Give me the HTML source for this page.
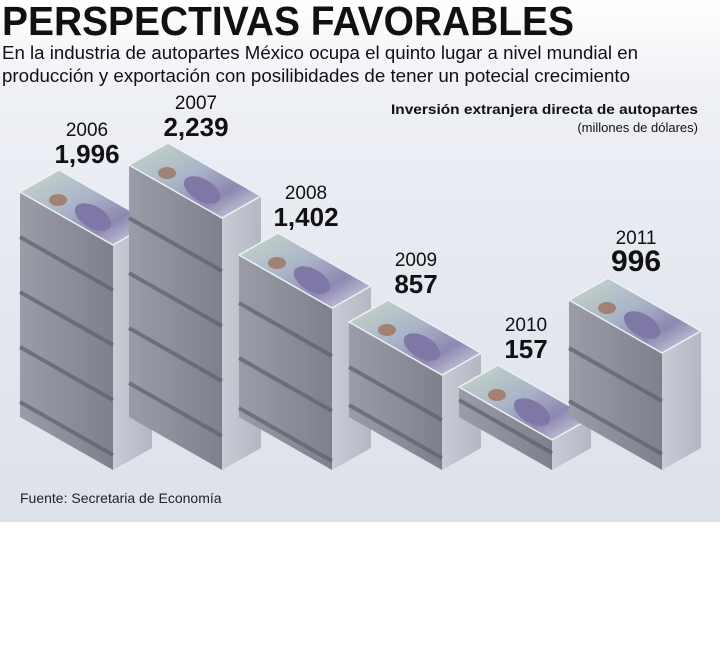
<!DOCTYPE html>
<html><head><meta charset="utf-8"><style>
html,body{margin:0;padding:0;background:#fff}
#w{position:relative;width:720px;height:660px;overflow:hidden;font-family:"Liberation Sans",sans-serif}
#bg{position:absolute;left:0;top:0;width:720px;height:522px;background:linear-gradient(180deg,#ffffff 0%,#eef0f5 18%,#e3e7ef 60%,#dde2ea 100%)}
</style></head><body><div id="w"><div id="bg"></div>
<svg width="720" height="660" style="position:absolute;left:0;top:0">
<defs>
<linearGradient id="lf" x1="0" y1="0" x2="1" y2="0"><stop offset="0" stop-color="#9a9ca8"/><stop offset="1" stop-color="#7e808c"/></linearGradient>
<linearGradient id="rf" x1="0" y1="0" x2="1" y2="0"><stop offset="0" stop-color="#c9cbd5"/><stop offset="1" stop-color="#b4b7c3"/></linearGradient>
<linearGradient id="tp" x1="0" y1="0" x2="1" y2="1"><stop offset="0" stop-color="#c8d8c8"/><stop offset="0.45" stop-color="#a9b3c8"/><stop offset="0.7" stop-color="#8d88b0"/><stop offset="1" stop-color="#dfe3ee"/></linearGradient>
<g id="top">
<polygon points="-93,-53 0,0 39,-22 -54,-75" fill="url(#tp)"/>
<ellipse cx="-20" cy="-28" rx="20" ry="11" fill="#7f78a6" transform="rotate(30 -20 -28)"/>
<ellipse cx="-55" cy="-45" rx="9" ry="6" fill="#9a6a50" opacity="0.7"/>
<polygon points="-93,-53 0,0 39,-22 -54,-75" fill="none" stroke="#eef0f5" stroke-width="1.5"/>
</g>
</defs>
<text x="2" y="35" font-size="41" font-weight="bold" fill="#111" textLength="572" lengthAdjust="spacingAndGlyphs">PERSPECTIVAS FAVORABLES</text>
<text x="2" y="59" font-size="18" fill="#111" textLength="636" lengthAdjust="spacingAndGlyphs">En la industria de autopartes México ocupa el quinto lugar a nivel mundial en</text>
<text x="2" y="82" font-size="18" fill="#111" textLength="628" lengthAdjust="spacingAndGlyphs">producción y exportación con posilibidades de tener un potecial crecimiento</text>
<text x="698" y="114" font-size="14" font-weight="bold" fill="#111" text-anchor="end" textLength="307" lengthAdjust="spacingAndGlyphs">Inversión extranjera directa de autopartes</text>
<text x="698" y="132" font-size="13" fill="#111" text-anchor="end">(millones de dólares)</text>
<text x="20" y="503" font-size="14" fill="#222">Fuente: Secretaria de Economía</text>

<g transform="translate(113,245)">
<polygon points="-93,-53 0,0 0,225 -93,172" fill="url(#lf)"/>
<polygon points="0,0 39,-22 39,203 0,225" fill="url(#rf)"/>
<g stroke="#5e606c" stroke-width="4" opacity="0.7"><line x1="-93" y1="-8" x2="0" y2="45"/><line x1="-93" y1="47" x2="0" y2="100"/><line x1="-93" y1="102" x2="0" y2="155"/><line x1="-93" y1="157" x2="0" y2="210"/></g>
<use href="#top"/>
<text x="-26" y="-109" font-size="19" text-anchor="middle" fill="#111">2006</text>
<text x="-26" y="-82" font-size="26" font-weight="bold" text-anchor="middle" fill="#111">1,996</text>
</g>
<g transform="translate(222,218)">
<polygon points="-93,-53 0,0 0,252 -93,199" fill="url(#lf)"/>
<polygon points="0,0 39,-22 39,230 0,252" fill="url(#rf)"/>
<g stroke="#5e606c" stroke-width="4" opacity="0.7"><line x1="-93" y1="0" x2="0" y2="53"/><line x1="-93" y1="55" x2="0" y2="108"/><line x1="-93" y1="110" x2="0" y2="163"/><line x1="-93" y1="165" x2="0" y2="218"/></g>
<use href="#top"/>
<text x="-26" y="-109" font-size="19" text-anchor="middle" fill="#111">2007</text>
<text x="-26" y="-82" font-size="26" font-weight="bold" text-anchor="middle" fill="#111">2,239</text>
</g>
<g transform="translate(332,308)">
<polygon points="-93,-53 0,0 0,162 -93,109" fill="url(#lf)"/>
<polygon points="0,0 39,-22 39,140 0,162" fill="url(#rf)"/>
<g stroke="#5e606c" stroke-width="4" opacity="0.7"><line x1="-93" y1="-5" x2="0" y2="48"/><line x1="-93" y1="50" x2="0" y2="103"/><line x1="-93" y1="100" x2="0" y2="153"/></g>
<use href="#top"/>
<text x="-26" y="-109" font-size="19" text-anchor="middle" fill="#111">2008</text>
<text x="-26" y="-82" font-size="26" font-weight="bold" text-anchor="middle" fill="#111">1,402</text>
</g>
<g transform="translate(442,375)">
<polygon points="-93,-53 0,0 0,95 -93,42" fill="url(#lf)"/>
<polygon points="0,0 39,-22 39,73 0,95" fill="url(#rf)"/>
<g stroke="#5e606c" stroke-width="4" opacity="0.7"><line x1="-93" y1="-8" x2="0" y2="45"/><line x1="-93" y1="30" x2="0" y2="83"/></g>
<use href="#top"/>
<text x="-26" y="-109" font-size="19" text-anchor="middle" fill="#111">2009</text>
<text x="-26" y="-82" font-size="26" font-weight="bold" text-anchor="middle" fill="#111">857</text>
</g>
<g transform="translate(552,440)">
<polygon points="-93,-53 0,0 0,30 -93,-23" fill="url(#lf)"/>
<polygon points="0,0 39,-22 39,8 0,30" fill="url(#rf)"/>
<g stroke="#5e606c" stroke-width="4" opacity="0.7"><line x1="-93" y1="-40" x2="0" y2="13"/></g>
<use href="#top"/>
<text x="-26" y="-109" font-size="19" text-anchor="middle" fill="#111">2010</text>
<text x="-26" y="-82" font-size="26" font-weight="bold" text-anchor="middle" fill="#111">157</text>
</g>
<g transform="translate(662,353)">
<polygon points="-93,-53 0,0 0,117 -93,64" fill="url(#lf)"/>
<polygon points="0,0 39,-22 39,95 0,117" fill="url(#rf)"/>
<g stroke="#5e606c" stroke-width="4" opacity="0.7"><line x1="-93" y1="-5" x2="0" y2="48"/><line x1="-93" y1="48" x2="0" y2="101"/></g>
<use href="#top"/>
<text x="-26" y="-109" font-size="19" text-anchor="middle" fill="#111">2011</text>
<text x="-26" y="-82" font-size="30" font-weight="bold" text-anchor="middle" fill="#111">996</text>
</g>
</svg></div></body></html>
